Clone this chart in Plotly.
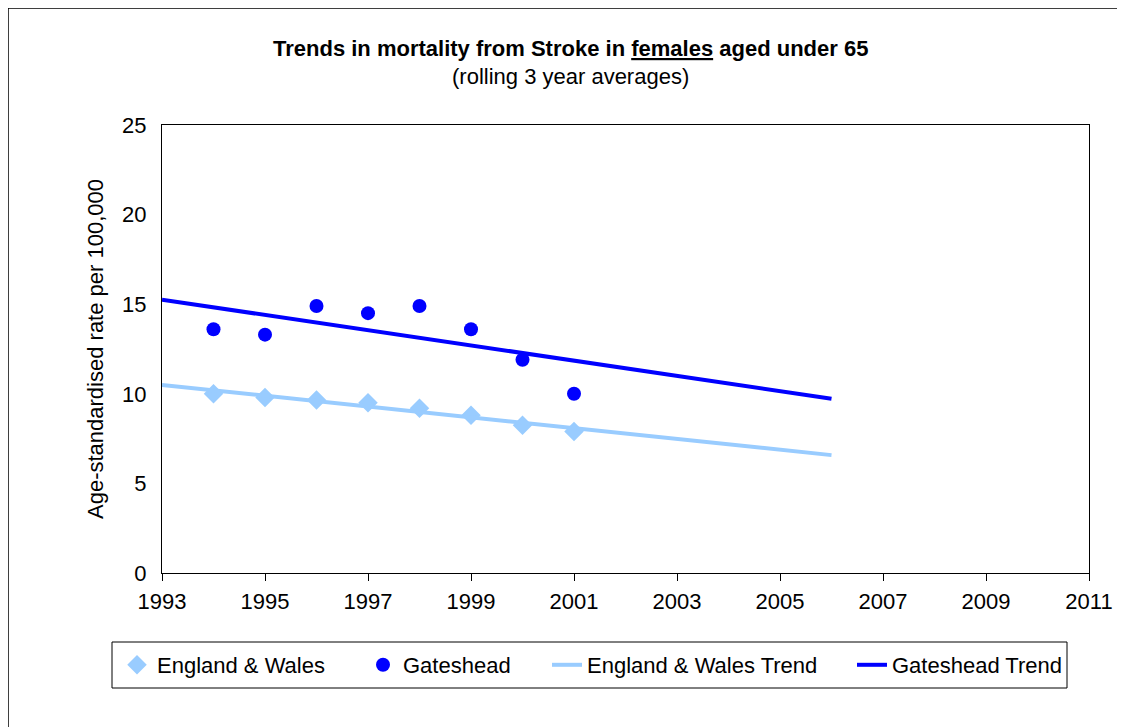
import numpy as np
import plotly.graph_objects as go

years = [1994, 1995, 1996, 1997, 1998, 1999, 2000, 2001]
england_wales = [10.0, 9.8, 9.65, 9.5, 9.2, 8.8, 8.25, 7.9]
gateshead = [13.6, 13.3, 14.9, 14.5, 14.9, 13.6, 11.9, 10.0]
trend_range = [1993, 2006]
x_ticks = [1993, 1995, 1997, 1999, 2001, 2003, 2005, 2007, 2009, 2011]
y_ticks = [0, 5, 10, 15, 20, 25]

FONT = "Liberation Sans, Arial, sans-serif"
LIGHT = "#99CCFF"
DARK = "#0000FF"
FS = 22

# plot area in page pixels (page has an 8px body margin)
PL, PR, PT, PB = 162, 1089, 125, 573
PW, PH = PR - PL, PB - PT


def px(x):
    return (x - PL) / PW


def py(y):
    return (PB - y) / PH


def trend(xs, ys, rng):
    m, c = np.polyfit(xs, ys, 1)
    return rng, [m * v + c for v in rng]


ew_tx, ew_ty = trend(years, england_wales, trend_range)
gh_tx, gh_ty = trend(years, gateshead, trend_range)

fig = go.Figure()
fig.add_trace(go.Scatter(x=years, y=england_wales, mode="markers", name="England & Wales",
                         marker=dict(symbol="diamond", size=15, color=LIGHT), legend="legend"))
fig.add_trace(go.Scatter(x=years, y=gateshead, mode="markers", name="Gateshead",
                         marker=dict(symbol="circle", size=14, color=DARK), legend="legend2"))
fig.add_trace(go.Scatter(x=ew_tx, y=ew_ty, mode="lines", name="England & Wales Trend",
                         line=dict(color=LIGHT, width=4), legend="legend3"))
fig.add_trace(go.Scatter(x=gh_tx, y=gh_ty, mode="lines", name="Gateshead Trend",
                         line=dict(color=DARK, width=4), legend="legend4"))


def leg(text_start):
    return dict(orientation="h", x=px(text_start - 40), y=py(665), xanchor="left",
                yanchor="middle", borderwidth=0, bgcolor="rgba(0,0,0,0)",
                font=dict(size=FS), itemwidth=30)


fig.update_layout(
    width=1117, height=719,
    margin=dict(l=PL - 8, r=1117 + 8 - PR, t=PT - 8, b=719 + 8 - PB, autoexpand=False),
    paper_bgcolor="white", plot_bgcolor="white",
    font=dict(family=FONT, size=FS, color="black"),
    showlegend=True,
    legend=leg(157), legend2=leg(403), legend3=leg(587), legend4=leg(892),
    xaxis=dict(range=[1993, 2011], tickvals=x_ticks, ticks="outside", ticklen=7,
               tickcolor="black", showline=True, linecolor="black", linewidth=1,
               mirror=True, showgrid=False, zeroline=False, tickfont=dict(size=FS),
               ticklabelstandoff=2),
    yaxis=dict(range=[0, 25], tickvals=y_ticks, ticks="", showline=True,
               linecolor="black", linewidth=1, mirror=True, showgrid=False,
               zeroline=False, tickfont=dict(size=FS), ticklabelstandoff=10,
               title=dict(text="Age-standardised rate per 100,000", font=dict(size=FS), standoff=12)),
    shapes=[
        dict(type="rect", xref="paper", yref="paper", x0=px(8), x1=px(1400),
             y0=py(1000), y1=py(8), line=dict(color="black", width=1.5)),
        dict(type="rect", xref="paper", yref="paper", x0=px(112), x1=px(1067),
             y0=py(688), y1=py(642), line=dict(color="black", width=1)),
    ],
    annotations=[
        dict(text="<b>Trends in mortality from Stroke in <span style='text-decoration:underline'>females</span> aged under 65</b>",
             xref="paper", yref="paper", x=px(570), y=py(48), xanchor="center", yanchor="middle",
             showarrow=False, font=dict(size=FS)),
        dict(text="(rolling 3 year averages)", xref="paper", yref="paper", x=px(570), y=py(76),
             xanchor="center", yanchor="middle", showarrow=False, font=dict(size=FS)),
    ],
)

fig.write_html("out.html")
